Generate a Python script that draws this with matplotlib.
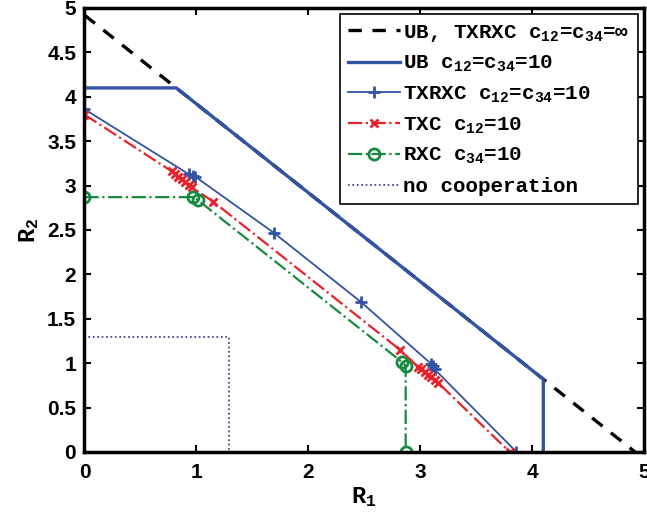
import numpy as np
import matplotlib.pyplot as plt

plt.rcParams['mathtext.fontset'] = 'custom'
plt.rcParams['mathtext.rm'] = 'Liberation Mono:bold'
plt.rcParams['mathtext.it'] = 'Liberation Mono:bold'
plt.rcParams['mathtext.bf'] = 'Liberation Mono:bold'

# UB, TXRXC with unlimited cooperation
ub_inf_r1 = [0, 4.92]
ub_inf_r2 = [4.92, 0]

# UB c12=c34=10
ub_r1 = [0, 0.82, 4.10, 4.10]
ub_r2 = [4.10, 4.10, 0.82, 0]

# TXRXC c12=c34=10
txrxc_r1 = [0, 0.93, 0.97, 0.99, 1.69, 2.47, 3.10, 3.11, 3.13, 3.86]
txrxc_r2 = [3.86, 3.13, 3.11, 3.10, 2.47, 1.69, 0.99, 0.97, 0.93, 0]

# TXC c12=10
txc_r1 = [0, 0.78, 0.81, 0.84, 0.87, 0.90, 0.93, 0.96, 1.15,
          2.82, 2.98, 3.01, 3.04, 3.07, 3.10, 3.13, 3.16, 3.80]
txc_r2 = [3.80, 3.16, 3.13, 3.10, 3.07, 3.04, 3.01, 2.98, 2.82,
          1.15, 0.96, 0.93, 0.90, 0.87, 0.84, 0.81, 0.78, 0]

# RXC c34=10
rxc_r1 = [0, 0.97, 1.01, 2.84, 2.87, 2.87]
rxc_r2 = [2.87, 2.87, 2.84, 1.01, 0.97, 0]

# no cooperation
nc_r1 = [0, 1.29, 1.29]
nc_r2 = [1.29, 1.29, 0]

blue = '#3353a3'
red = '#e8222a'
green = '#168a3e'

fig = plt.figure(figsize=(6.47, 5.19), dpi=100)
ax = fig.add_axes([0.1306, 0.1291, 0.8648, 0.8555])

ax.plot(ub_inf_r1, ub_inf_r2, '--', color='k', lw=2.4, dashes=(4, 3.2),
        label=r'UB, TXRXC c$_{12}$=c$_{34}$=$\infty$')
ax.plot(ub_r1, ub_r2, '-', color=blue, lw=2.4, label=r'UB c$_{12}$=c$_{34}$=10')
ax.plot(txrxc_r1, txrxc_r2, '-', color=blue, lw=1.3, marker='+', ms=9, mew=2,
        label=r'TXRXC c$_{12}$=c$_{34}$=10')
ax.plot(txc_r1, txc_r2, '-.', color=red, lw=1.6, marker='x', ms=6, mew=2,
        label=r'TXC c$_{12}$=10')
ax.plot(rxc_r1, rxc_r2, '-.', color=green, lw=1.6, marker='o', ms=8, mew=2,
        mfc='none', label=r'RXC c$_{34}$=10')
ax.plot(nc_r1, nc_r2, ':', color='#30308a', lw=1.2, label='no cooperation')

ax.set_xlim(0, 5)
ax.set_ylim(0, 5)
ax.set_xticks(np.arange(0, 6, 1))
ax.set_yticks(np.arange(0, 5.5, 0.5))
ax.set_xticklabels(['0', '1', '2', '3', '4', '5'])
ax.set_yticklabels(['0', '0.5', '1', '1.5', '2', '2.5', '3', '3.5', '4', '4.5', '5'])
ax.tick_params(direction='in', top=True, right=True, length=5, width=1.5,
               labelsize=15, pad=6)
ax.tick_params(axis='x', pad=8)
for lab in ax.get_xticklabels() + ax.get_yticklabels():
    lab.set_fontfamily('Liberation Sans')
    lab.set_fontweight('bold')
for s in ax.spines.values():
    s.set_linewidth(2.5)

ax.set_xlabel(r'R$_1$', fontsize=17, fontfamily='Liberation Mono', fontweight='bold',
              labelpad=2)
ax.set_ylabel(r'R$_2$', fontsize=17, fontfamily='Liberation Mono', fontweight='bold')

leg = ax.legend(loc='upper right', numpoints=1, fancybox=False,
                edgecolor='k', framealpha=1, handlelength=2.5, handletextpad=0.15,
                labelspacing=0.5, borderpad=0.4, borderaxespad=0.3,
                prop={'family': 'Liberation Mono', 'weight': 'bold', 'size': 15})
leg.get_frame().set_linewidth(1.2)

fig.savefig('out.png', dpi=100)
